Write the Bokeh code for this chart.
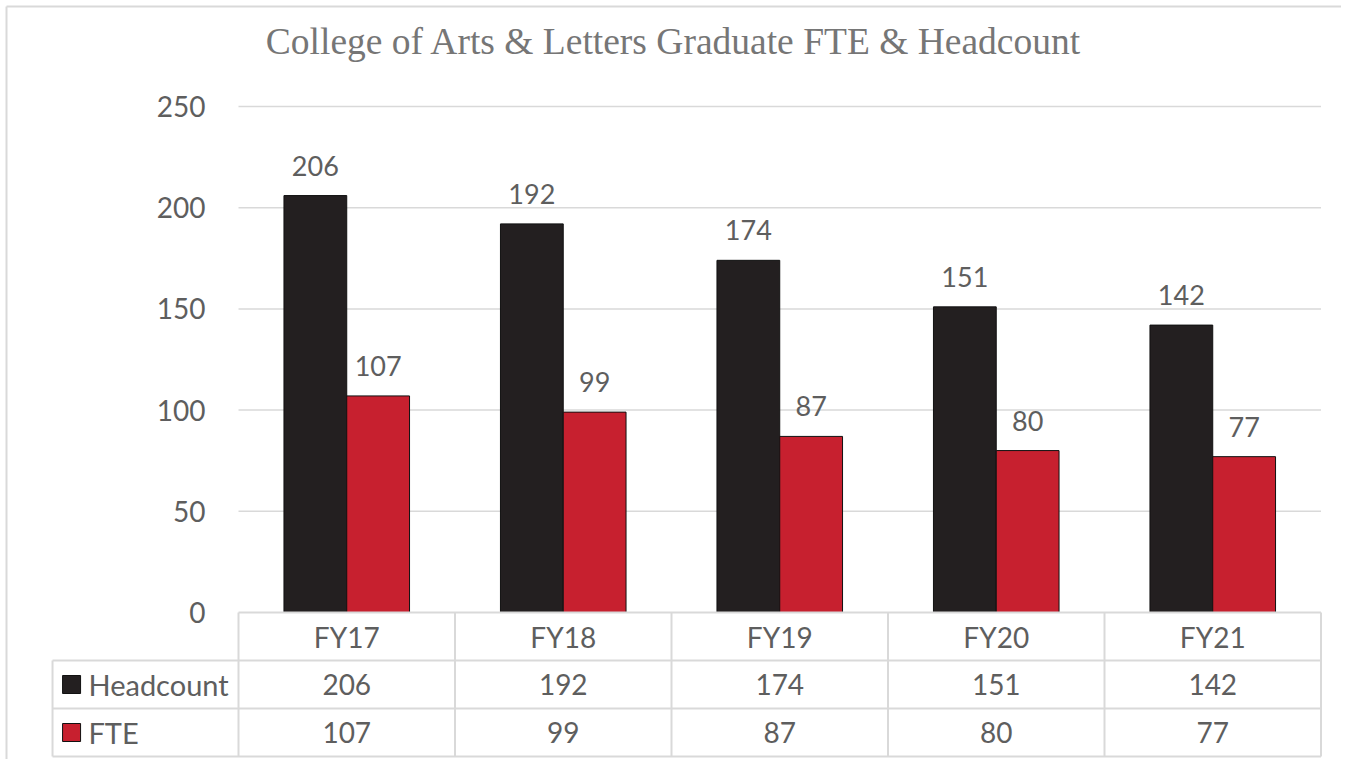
from bokeh.plotting import figure
from bokeh.models import Range1d, Label, ColumnDataSource
from bokeh.core.properties import value
from bokeh.embed import file_html
from bokeh.resources import INLINE

# ---- data ----
categories = ["FY17", "FY18", "FY19", "FY20", "FY21"]
headcount = [206, 192, 174, 151, 142]
fte = [107, 99, 87, 80, 77]
series_names = ["Headcount", "FTE"]
y_ticks = [0, 50, 100, 150, 200, 250]

# ---- styles ----
W, H = 1341, 759
HC_COLOR = "#231f20"
FTE_COLOR = "#c7202f"
GRID = "#d9d9d9"
TXT = "#5e5e5e"
FONT = value("Lato")

X0, X1 = -1.0993, 5.0947
Y0, Y1 = -72.63, 302.37
p = figure(width=W, height=H, output_backend="svg", toolbar_location=None,
           x_range=Range1d(X0, X1), y_range=Range1d(Y0, Y1),
           min_border=0, outline_line_color=None, background_fill_color="white",
           border_fill_color="white")
p.axis.visible = False
p.xaxis.visible = False
p.yaxis.visible = False
p.grid.visible = False
p.extra_y_ranges = {"tbl": Range1d(3.0625, -12.75)}

n = len(categories)
xc = [i + 0.5 for i in range(n)]
bw = 0.29

# outer chart border (left, top)
bx, by = -1.0716, 299.4
p.segment(x0=[bx, bx], y0=[Y0, by], x1=[bx, X1], y1=[by, by],
          line_color=GRID, line_width=2)

# gridlines
grid_vals = [t for t in y_ticks if t > 0]
p.segment(x0=[0] * len(grid_vals), y0=grid_vals, x1=[n] * len(grid_vals), y1=grid_vals,
          line_color=GRID, line_width=1.5)

# y tick labels
p.text(x=[-0.152] * len(y_ticks), y=y_ticks, text=[str(t) for t in y_ticks],
       text_align="right", text_baseline="middle", text_font=FONT,
       text_font_size="28px", text_color=TXT)

# bars
src = ColumnDataSource(dict(
    xh=[x - bw / 2 for x in xc], xf=[x + bw / 2 for x in xc],
    hc=headcount, fte=fte,
    hcl=[str(v) for v in headcount], ftel=[str(v) for v in fte]))
p.vbar(x="xh", top="hc", bottom=0, width=bw, source=src,
       fill_color=HC_COLOR, line_color="#111111", line_width=1)
p.vbar(x="xf", top="fte", bottom=0, width=bw, source=src,
       fill_color=FTE_COLOR, line_color="#111111", line_width=1)

# data labels
p.text(x="xh", y="hc", text="hcl", source=src, text_align="center",
       text_baseline="alphabetic", y_offset=-30, text_font=FONT,
       text_font_size="27px", text_color=TXT)
p.text(x="xf", y="fte", text="ftel", source=src, text_align="center",
       text_baseline="alphabetic", y_offset=-30, text_font=FONT,
       text_font_size="27px", text_color=TXT)

# ---- data table ----
x_left = -0.859
p.segment(x0=[0, x_left, x_left, x_left], y0=[0, 1, 2, 3],
          x1=[n, n, n, n], y1=[0, 1, 2, 3],
          line_color=GRID, line_width=2, y_range_name="tbl")
vx = list(range(n + 1))
p.segment(x0=vx + [x_left], y0=[0] * (n + 1) + [1],
          x1=vx + [x_left], y1=[3] * (n + 1) + [3],
          line_color=GRID, line_width=2, y_range_name="tbl")

p.text(x=xc, y=[0.5] * n, text=categories, text_align="center",
       text_baseline="middle", text_font=FONT, text_font_size="28px",
       text_color=TXT, y_range_name="tbl")
for r, vals in ((1.5, headcount), (2.5, fte)):
    p.text(x=xc, y=[r] * n, text=[str(v) for v in vals], text_align="center",
           text_baseline="middle", text_font=FONT, text_font_size="28px",
           text_color=TXT, y_range_name="tbl")

p.scatter(x=[-0.771, -0.771], y=[1.5, 2.5], marker="square", size=18,
          fill_color=[HC_COLOR, FTE_COLOR], line_color="#111111", line_width=1,
          y_range_name="tbl")
p.text(x=[-0.693, -0.693], y=[1.5, 2.5], text=series_names, text_align="left",
       text_baseline="middle", text_font=FONT, text_font_size="29px",
       text_color=TXT, y_range_name="tbl")

# title
p.add_layout(Label(x=673.5, y=H - 41, x_units="screen", y_units="screen",
                   text="College of Arts & Letters Graduate FTE & Headcount",
                   text_align="center", text_baseline="alphabetic",
                   text_font="Liberation Serif", text_font_size="37.5px",
                   text_color="#767676"))

open("out.html", "w").write(file_html(p, INLINE))
